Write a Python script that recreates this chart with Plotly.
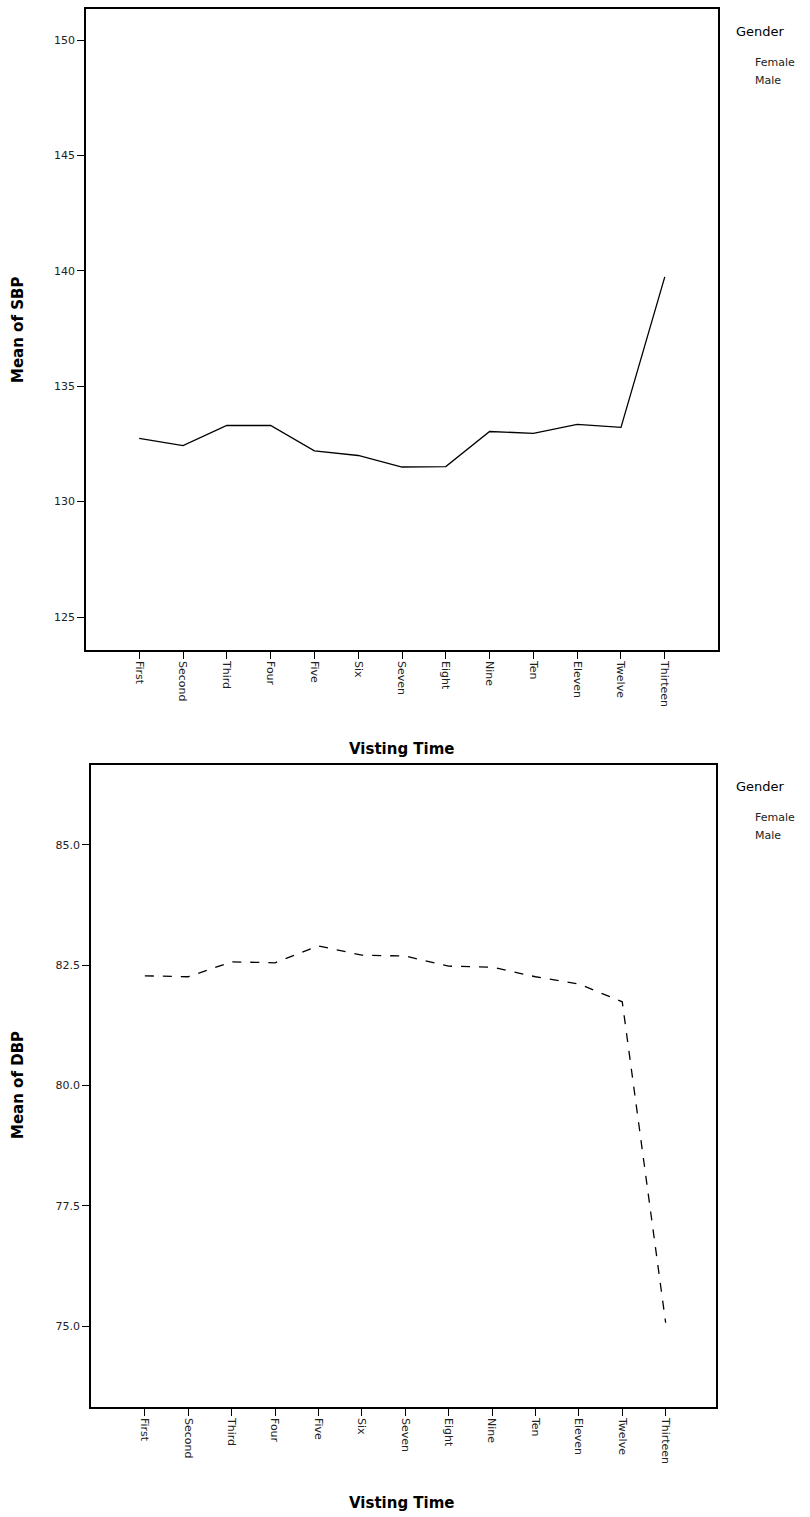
import plotly.graph_objects as go

W, H = 810, 1517

visits = ["First", "Second", "Third", "Four", "Five", "Six", "Seven",
          "Eight", "Nine", "Ten", "Eleven", "Twelve", "Thirteen"]
sbp_mean = [132.74, 132.43, 133.30, 133.30, 132.20, 132.00, 131.50,
            131.52, 133.04, 132.96, 133.35, 133.22, 139.74]
dbp_mean = [82.28, 82.26, 82.57, 82.55, 82.90, 82.71, 82.69,
            82.48, 82.46, 82.26, 82.11, 81.74, 75.07]
sbp_ticks = [125, 130, 135, 140, 145, 150]
dbp_ticks = [75.0, 77.5, 80.0, 82.5, 85.0]
legend_title = "Gender"
legend_items = ["Female", "Male"]

xidx = list(range(len(visits)))

def px_x(p):
    return p / W

def px_y(p):
    return 1 - p / H

fig = go.Figure()
fig.add_trace(go.Scatter(x=xidx, y=sbp_mean, mode="lines", xaxis="x", yaxis="y",
                         line=dict(color="black", width=1.3), showlegend=False,
                         name="SBP"))
fig.add_trace(go.Scatter(x=xidx, y=dbp_mean, mode="lines", xaxis="x2", yaxis="y2",
                         line=dict(color="black", width=1.3, dash="dash"),
                         showlegend=False, name="DBP"))

tickfont = dict(family="DejaVu Sans", size=11, color="#222")
axis_common = dict(showline=True, linecolor="black", linewidth=1.5, mirror=True,
                   ticks="outside", ticklen=7, tickcolor="black", tickwidth=1.2,
                   showgrid=False, zeroline=False, tickfont=tickfont, fixedrange=True)

fig.update_layout(
    width=W, height=H, autosize=False,
    margin=dict(l=0, r=0, t=0, b=0),
    paper_bgcolor="white", plot_bgcolor="white",
    xaxis=dict(domain=[px_x(86), px_x(718)], anchor="y",
               range=[-1.215, 13.215], tickvals=xidx, ticktext=visits,
               tickangle=90, **axis_common),
    yaxis=dict(domain=[px_y(650), px_y(9)], anchor="x",
               range=[123.57, 151.35], tickvals=sbp_ticks,
               ticktext=[str(v) for v in sbp_ticks], **axis_common),
    xaxis2=dict(domain=[px_x(91), px_x(716)], anchor="y2",
                range=[-1.24, 13.16], tickvals=xidx, ticktext=visits,
                tickangle=90, **axis_common),
    yaxis2=dict(domain=[px_y(1407), px_y(765)], anchor="x2",
                range=[73.32, 86.66], tickvals=dbp_ticks,
                ticktext=[f"{v:.1f}" for v in dbp_ticks], **axis_common),
)

title_font = dict(family="DejaVu Sans", size=15, color="black")
ann = []
ann.append(dict(text="<b>Visting Time</b>", x=px_x(402), y=px_y(749), xref="paper", yref="paper",
                showarrow=False, font=title_font, xanchor="center", yanchor="middle"))
ann.append(dict(text="<b>Visting Time</b>", x=px_x(402), y=px_y(1503), xref="paper", yref="paper",
                showarrow=False, font=title_font, xanchor="center", yanchor="middle"))
ann.append(dict(text="<b>Mean of SBP</b>", x=px_x(18), y=px_y(330), xref="paper", yref="paper",
                showarrow=False, font=title_font, textangle=-90, xanchor="center", yanchor="middle"))
ann.append(dict(text="<b>Mean of DBP</b>", x=px_x(18), y=px_y(1085), xref="paper", yref="paper",
                showarrow=False, font=title_font, textangle=-90, xanchor="center", yanchor="middle"))
for top in (0, 755):
    ann.append(dict(text=legend_title, x=px_x(734), y=px_y(31 + top), xref="paper", yref="paper",
                    showarrow=False, xanchor="left", yanchor="middle",
                    font=dict(family="DejaVu Sans", size=13, color="black")))
    for i, name in enumerate(legend_items):
        ann.append(dict(text=name, x=px_x(753), y=px_y(62 + 18 * i + top), xref="paper", yref="paper",
                        showarrow=False, xanchor="left", yanchor="middle",
                        font=dict(family="DejaVu Sans", size=11, color="#222")))
fig.update_layout(annotations=ann)

fig.write_html("out.html", config={"displayModeBar": False},
               post_script="document.body.style.margin='0px';document.body.style.padding='0px';")
